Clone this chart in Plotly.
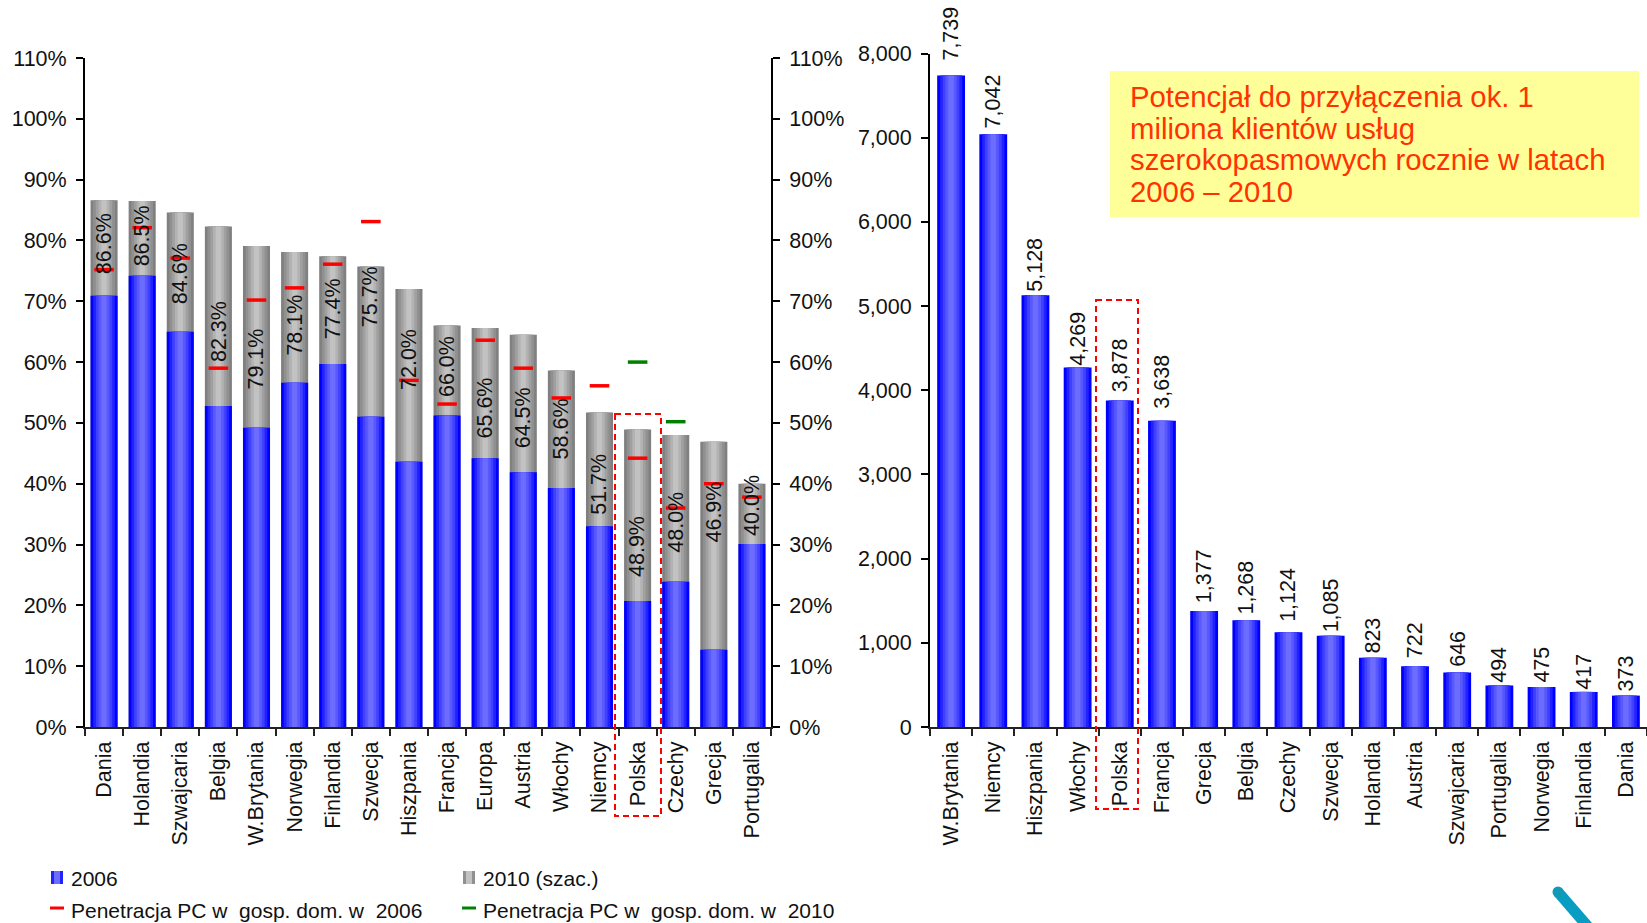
import plotly.graph_objects as go

# Broadband penetration by country (left panel)
countries = ["Dania", "Holandia", "Szwajcaria", "Belgia", "W.Brytania", "Norwegia",
             "Finlandia", "Szwecja", "Hiszpania", "Francja", "Europa", "Austria",
             "Włochy", "Niemcy", "Polska", "Czechy", "Grecja", "Portugalia"]
penetration_2006 = [70.9, 74.2, 65.0, 52.8, 49.2, 56.6, 59.7, 51.0, 43.6,
                    51.2, 44.2, 41.9, 39.3, 33.0, 20.7, 23.9, 12.7, 30.1]
penetration_2010 = [86.6, 86.5, 84.6, 82.3, 79.1, 78.1, 77.4, 75.7, 72.0,
                    66.0, 65.6, 64.5, 58.6, 51.7, 48.9, 48.0, 46.9, 40.0]
pc_homes_2006 = [75.2, 82.1, 77.1, 59.0, 70.2, 72.2, 76.1, 83.1, 57.0,
                 53.1, 63.6, 59.0, 54.1, 56.1, 44.2, 36.0, 40.0, 37.8]
pc_homes_2010 = [None] * 14 + [60.0, 50.2, None, None]
# Height on the axis at which each rotated percentage is centred
label_heights = [79.4, 80.7, 74.5, 65.0, 60.5, 66.1, 68.8, 70.8, 60.5,
                 59.2, 52.4, 50.8, 49.0, 39.9, 29.7, 33.7, 35.4, 36.5]
percent_ticks = list(range(0, 111, 10))
percent_labels = [f"{v}%" for v in percent_ticks]

# Subscriber counts in thousands (right panel)
markets = ["W.Brytania", "Niemcy", "Hiszpania", "Włochy", "Polska", "Francja",
           "Grecja", "Belgia", "Czechy", "Szwecja", "Holandia", "Austria",
           "Szwajcaria", "Portugalia", "Norwegia", "Finlandia", "Dania"]
new_clients = [7739, 7042, 5128, 4269, 3878, 3638, 1377, 1268, 1124, 1085,
               823, 722, 646, 494, 475, 417, 373]
count_ticks = list(range(0, 8001, 1000))
# Pixel gap between each bar top and its value label
label_gaps = [16, 7, 5, 2.5, 9, 13, 9, 7, 11, 4, 5, 9, 7, 4, 5, 3, 5]

W, H = 1647, 923
FONT = "Liberation Sans"
INK = "#111111"
BLUES = ["#0000FF", "#2222FF", "#4040FF", "#5858FF", "#6C6CFF"]
GREYS = ["#808080", "#909090", "#A0A0A0", "#B2B2B2", "#C2C2C2"]
BAND_SCALE = [1.0, 0.8, 0.6, 0.4, 0.2]


def px(x):
    return x / W


def py(y):
    return 1 - y / H


def shaded_bars(x, y, colors, width, xaxis, yaxis, name):
    """Nested bars of falling width give the cylinder-like horizontal shading."""
    return [go.Bar(x=x, y=y, width=width * scale, name=name,
                   marker=dict(color=color, line=dict(width=0)),
                   xaxis=xaxis, yaxis=yaxis, hoverinfo="x+y")
            for color, scale in zip(colors, BAND_SCALE)]


fig = go.Figure()
for tr in shaded_bars(countries, penetration_2010, GREYS, 0.71, "x", "y", "2010 (szac.)"):
    fig.add_trace(tr)
for tr in shaded_bars(countries, penetration_2006, BLUES, 0.71, "x", "y", "2006"):
    fig.add_trace(tr)

dash = dict(symbol="line-ew", size=14)
fig.add_trace(go.Scatter(x=countries, y=pc_homes_2006, mode="markers", xaxis="x", yaxis="y3",
                         name="Penetracja PC w gosp. dom. w 2006",
                         marker=dict(color="#FF0000", line=dict(color="#FF0000", width=3.5), **dash)))
fig.add_trace(go.Scatter(x=countries, y=pc_homes_2010, mode="markers", xaxis="x", yaxis="y3",
                         name="Penetracja PC w gosp. dom. w 2010",
                         marker=dict(color="#008000", line=dict(color="#008000", width=3.5), **dash)))

for tr in shaded_bars(markets, new_clients, BLUES, 0.66, "x2", "y2", "Klienci"):
    fig.add_trace(tr)

tick_font = dict(family=FONT, size=21.5, color=INK)
common_y = dict(showgrid=False, zeroline=False, showline=True, linecolor="black", linewidth=2,
                automargin=False, ticks="outside", ticklen=7, tickwidth=2, tickcolor="black",
                tickfont=tick_font, ticklabelstandoff=5)
common_x = dict(type="category", showgrid=False, zeroline=False, showline=True,
                automargin=False, linecolor="#222222", linewidth=2, ticks="outside", ticklen=7,
                tickwidth=2, tickcolor="#222222", tickson="boundaries", tickangle=-90,
                tickfont=tick_font, ticklabelstandoff=4)

annotations = [
    dict(x=c, y=h, xref="x", yref="y", text=f"{v:.1f}%", textangle=-90, showarrow=False,
         xanchor="center", yanchor="middle", font=tick_font)
    for c, h, v in zip(countries, label_heights, penetration_2010)
]
annotations += [
    dict(x=m, y=v, xref="x2", yref="y2", text=f"{v:,}", textangle=-90, showarrow=False,
         xanchor="center", yanchor="bottom", yshift=gap - 3, font=tick_font)
    for m, v, gap in zip(markets, new_clients, label_gaps)
]

# Legend entries
legend_rows = [(71.5, 878, "2006"), (483.5, 878, "2010 (szac.)"),
               (71.5, 910, "Penetracja PC w\u00a0 gosp. dom. w\u00a0 2006"),
               (483.5, 910, "Penetracja PC w\u00a0 gosp. dom. w\u00a0 2010")]
for x, y, label in legend_rows:
    annotations.append(dict(x=px(x), y=py(y), xref="paper", yref="paper", text=label,
                            showarrow=False, xanchor="left", yanchor="middle", xshift=-3,
                            font=dict(family=FONT, size=21, color=INK)))

# Call-out text in the yellow box
callout = ["Potencjał do przyłączenia ok. 1", "miliona klientów usług",
           "szerokopasmowych rocznie w latach", "2006 – 2010"]
for i, line in enumerate(callout):
    annotations.append(dict(x=px(1128), y=py(96.5 + i * 31.5), xref="paper", yref="paper",
                            text=line, showarrow=False, xanchor="left", yanchor="middle",
                            font=dict(family=FONT, size=29.3, color="#FF3300")))


def rect(x0, y0, x1, y1, **kw):
    return dict(type="rect", xref="paper", yref="paper", x0=px(x0), x1=px(x1),
                y0=py(y0), y1=py(y1), **kw)


shapes = [rect(1110, 71, 1639, 217, fillcolor="#FFFF99", line=dict(width=0), layer="below")]

# Dashed frames around the Polish columns
frame = dict(color="#FF0000", width=2, dash="6px,4px")
shapes.append(rect(615, 414, 661, 816, line=frame))
shapes.append(rect(1096, 300, 1138, 809, line=frame))

# Legend swatches
for x0, colors in ((51, BLUES), (463, GREYS)):
    shapes.append(rect(x0, 871, x0 + 12, 884, fillcolor=colors[1], line=dict(width=0)))
    shapes.append(rect(x0 + 3, 871, x0 + 9, 884, fillcolor=colors[4], line=dict(width=0)))
for x0, color in ((50, "#FF0000"), (462, "#008000")):
    shapes.append(rect(x0, 906.5, x0 + 14, 909.5, fillcolor=color, line=dict(width=0)))

# Corner logo stroke
teal = "#0A9DC4"
shapes.append(dict(type="line", xref="paper", yref="paper", x0=px(1558), y0=py(892),
                   x1=px(1590), y1=py(929), line=dict(color=teal, width=11)))
shapes.append(dict(type="circle", xref="paper", yref="paper", x0=px(1552.5), x1=px(1563.5),
                   y0=py(886.5), y1=py(897.5), fillcolor="#109AB5", line=dict(width=0)))

fig.update_layout(
    width=W, height=H, autosize=False,
    margin=dict(l=0, r=0, t=0, b=0),
    paper_bgcolor="white", plot_bgcolor="rgba(0,0,0,0)",
    barmode="overlay", showlegend=False,
    font=dict(family=FONT, color=INK),
    xaxis=dict(domain=[px(85), px(771)], anchor="y", range=[-0.5, 17.5], **common_x),
    yaxis=dict(domain=[py(727), py(58)], anchor="x", range=[0, 110], tickvals=percent_ticks,
               ticktext=percent_labels, **common_y),
    yaxis3=dict(overlaying="y", side="right", anchor="x", range=[0, 110], tickvals=percent_ticks,
                ticktext=percent_labels, **common_y),
    xaxis2=dict(domain=[px(930), 1.0], anchor="y2", range=[-0.5, 16.5], **common_x),
    yaxis2=dict(domain=[py(727), py(53.5)], anchor="x2", range=[0, 8000], tickvals=count_ticks,
                tickformat=",d", **common_y),
    annotations=annotations,
    shapes=shapes,
)

fig.write_html("out.html")
